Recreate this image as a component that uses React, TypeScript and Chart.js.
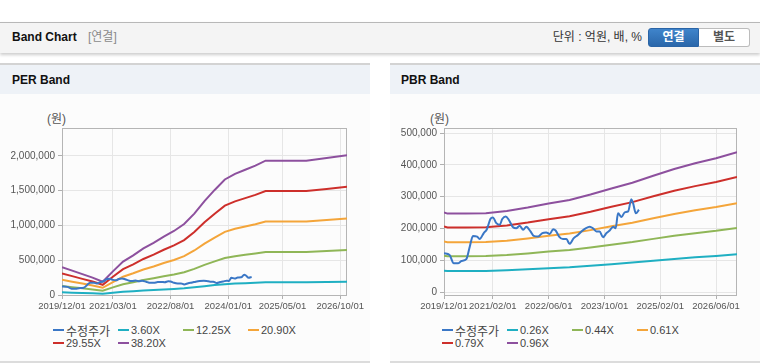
import React, { useEffect, useRef } from 'react';
import { Chart, registerables } from 'chart.js';
Chart.register(...registerables);

const FONT = "'Liberation Sans', Arial, 'Noto Sans CJK KR', sans-serif";
const TICK_FONT = "'Liberation Sans', Arial, 'Noto Sans CJK KR', sans-serif";

// x values are months since 2019/12/01
const xMax = 84;

// ---------- PER Band ----------
const perTickMonths = [0, 15, 32, 49, 65, 82];
const perTickLabels = ['2019/12/01', '2021/03/01', '2022/08/01', '2024/01/01', '2025/05/01', '2026/10/01'];
const perYTicks = [0, 500000, 1000000, 1500000, 2000000];
const perBandMonths = [0, 3, 6, 9, 12, 15, 18, 21, 24, 27, 30, 33, 36, 39, 42, 45, 48, 51, 54, 57, 60, 66, 72, 78, 84];
const per360 = [38000, 33000, 28000, 24000, 18000, 32000, 45000, 54000, 63000, 71000, 79000, 87000, 96000, 110000, 127000, 142000, 156000, 164000, 170000, 175000, 182000, 182000, 182000, 186000, 189000];
const per1225 = [128000, 112000, 96000, 80000, 61000, 109000, 154000, 183000, 215000, 241000, 269000, 295000, 327000, 375000, 433000, 484000, 532000, 558000, 577000, 597000, 619000, 619000, 619000, 632000, 645000];
const per2090 = [219000, 191000, 164000, 137000, 104000, 186000, 263000, 312000, 367000, 410000, 460000, 503000, 558000, 640000, 739000, 826000, 908000, 952000, 985000, 1018000, 1056000, 1056000, 1056000, 1078000, 1100000];
const per2955 = [309000, 271000, 232000, 193000, 147000, 263000, 371000, 441000, 518000, 580000, 650000, 712000, 789000, 905000, 1044000, 1168000, 1284000, 1346000, 1392000, 1439000, 1493000, 1493000, 1493000, 1524000, 1555000];
const per3820 = [400000, 350000, 300000, 250000, 190000, 340000, 480000, 570000, 670000, 750000, 840000, 920000, 1020000, 1170000, 1350000, 1510000, 1660000, 1740000, 1800000, 1860000, 1930000, 1930000, 1930000, 1970000, 2010000];

// ---------- PBR Band ----------
const pbrTickMonths = [0, 14, 30, 46, 62, 78];
const pbrTickLabels = ['2019/12/01', '2021/02/01', '2022/06/01', '2023/10/01', '2025/02/01', '2026/06/01'];
const pbrYTicks = [0, 100000, 200000, 300000, 400000, 500000];
const pbrBandMonths = [0, 1, 6, 12, 18, 24, 30, 36, 42, 48, 54, 60, 66, 72, 78, 84];
const pbr026 = [68000, 66900, 66900, 67200, 69100, 72000, 75600, 78500, 83100, 88300, 93200, 99100, 104800, 109700, 114000, 119200];
const pbr044 = [115000, 113200, 113200, 113700, 116900, 121900, 127900, 132900, 140700, 149400, 157700, 167700, 177400, 185600, 192900, 201700];
const pbr061 = [159500, 156900, 156900, 157600, 162000, 169000, 177300, 184300, 195100, 207100, 218600, 232600, 245900, 257300, 267500, 279600];
const pbr079 = [206500, 203300, 203300, 204100, 209800, 218900, 229600, 238600, 252600, 268300, 283100, 301200, 318500, 333300, 346400, 362100];
const pbr096 = [251000, 247000, 247000, 248000, 255000, 266000, 279000, 290000, 307000, 326000, 344000, 366000, 387000, 405000, 421000, 440000];

// ---------- 수정주가 (adjusted price) ----------
const priceMonths = [0, 1.6, 2.8, 4, 5, 6.4, 7.4, 8.3, 9.5, 10.2, 11.4, 12.3, 13.3, 14, 15, 16, 16.7, 17.7, 18.6, 19.8, 20.7, 21.7, 22.7, 23.6, 24.8, 25.7, 27, 28.2, 29.3, 30.3, 31.3, 32, 33, 34.1, 35.1, 36, 37.2, 38.4, 39.4, 40.6, 41.8, 42.7, 43.7, 44.6, 45.6, 46.6, 47.5, 48.5, 49.2, 49.9, 50.9, 51.8, 52.8, 53.7, 54.2, 55, 55.9];
const priceValues = [122600, 117000, 91000, 91000, 98000, 104000, 144000, 177000, 175000, 167000, 186000, 198000, 230000, 235000, 217000, 212000, 230000, 238000, 227000, 204000, 201000, 209000, 196000, 206000, 191000, 177000, 175000, 186000, 188000, 183000, 198000, 194000, 175000, 167000, 167000, 152000, 170000, 180000, 191000, 201000, 206000, 201000, 191000, 191000, 173000, 186000, 194000, 206000, 201000, 248000, 236000, 251000, 254000, 292000, 280000, 248000, 259000];

const COLORS = ['#3a77c6', '#1fafc2', '#8fb657', '#f4a53a', '#cd2f2b', '#8d509e'];
const perLabels = ['수정주가', '3.60X', '12.25X', '20.90X', '29.55X', '38.20X'];
const pbrLabels = ['수정주가', '0.26X', '0.44X', '0.61X', '0.79X', '0.96X'];

const toPoints = (xs: number[], ys: number[]) => xs.map((x, i) => ({ x, y: ys[i] }));

const framePlugin = {
  id: 'frame',
  beforeDatasetsDraw(chart: any) {
    const { ctx, chartArea: a } = chart;
    ctx.save();
    ctx.strokeStyle = '#b5b5b5';
    ctx.lineWidth = 1;
    ctx.strokeRect(Math.round(a.left) + 0.5, Math.round(a.top) + 0.5, Math.round(a.right - a.left) - 1, Math.round(a.bottom - a.top));
    ctx.restore();
  },
};

function makeConfig(p: {
  labels: string[];
  bandMonths: number[];
  bands: number[][];
  xTicks: number[];
  xLabels: string[];
  yTicks: number[];
  yMin: number;
  yMax: number;
  yWidth: number;
  padRight: number;
}): any {
  const datasets: any[] = [
    {
      label: p.labels[0],
      data: toPoints(priceMonths, priceValues),
      borderColor: COLORS[0],
      borderWidth: 2,
      pointRadius: 0,
      cubicInterpolationMode: 'monotone',
    },
  ];
  p.bands.forEach((vals, i) => {
    datasets.push({
      label: p.labels[i + 1],
      data: toPoints(p.bandMonths, vals),
      borderColor: COLORS[i + 1],
      borderWidth: 2,
      pointRadius: 0,
      tension: 0,
    });
  });
  return {
    type: 'line',
    data: { datasets },
    plugins: [framePlugin],
    options: {
      animation: false,
      responsive: false,
      events: [],
      layout: { padding: { left: 0, top: 28, right: p.padRight, bottom: 0 } },
      plugins: { legend: { display: false }, tooltip: { enabled: false } },
      scales: {
        x: {
          type: 'linear',
          min: 0,
          max: xMax,
          afterBuildTicks: (s: any) => {
            s.ticks = p.xTicks.map((v) => ({ value: v }));
          },
          afterFit: (s: any) => {
            s.height = 20;
          },
          ticks: {
            autoSkip: false,
            maxRotation: 0,
            minRotation: 0,
            padding: 2,
            color: '#555',
            font: { family: TICK_FONT, size: 9.5 },
            callback: (_v: any, i: number) => p.xLabels[i],
          },
          grid: { color: '#e6e6e6', tickLength: 4, tickColor: '#b0b0b0' },
          border: { display: false },
        },
        y: {
          type: 'linear',
          min: p.yMin,
          max: p.yMax,
          afterBuildTicks: (s: any) => {
            s.ticks = p.yTicks.map((v) => ({ value: v }));
          },
          afterFit: (s: any) => {
            s.width = p.yWidth;
          },
          ticks: {
            padding: 3,
            color: '#555',
            font: { family: TICK_FONT, size: 10 },
            callback: (v: any) => Number(v).toLocaleString('en-US'),
          },
          grid: { color: '#e6e6e6', tickLength: 4, tickColor: '#b0b0b0' },
          border: { display: false },
        },
      },
    },
  };
}

function BandChart(props: { config: any; left: number }) {
  const ref = useRef<HTMLCanvasElement>(null);
  useEffect(() => {
    const chart = new Chart(ref.current as HTMLCanvasElement, props.config);
    return () => chart.destroy();
  }, []);
  return (
    <canvas
      ref={ref}
      width={370}
      height={215}
      style={{ position: 'absolute', left: props.left, top: 100, width: 370, height: 215, display: 'block' }}
    />
  );
}

function Legend(props: { labels: string[]; left: number }) {
  const cols = [0, 65, 130, 195];
  return (
    <>
      {props.labels.map((lab, i) => {
        const row = i < 4 ? 0 : 1;
        const col = i < 4 ? i : i - 4;
        return (
          <div
            key={lab}
            style={{
              position: 'absolute',
              left: props.left + cols[col],
              top: row === 0 ? 322 : 335,
              height: 16,
              display: 'flex',
              alignItems: 'center',
              whiteSpace: 'nowrap',
            }}
          >
            <span style={{ display: 'inline-block', width: 11, height: 2, background: COLORS[i], marginRight: 2 }} />
            <span style={{ fontFamily: FONT, fontSize: i === 0 ? 12 : 11, color: '#444' }}>{lab}</span>
          </div>
        );
      })}
    </>
  );
}

const perConfig = makeConfig({
  labels: perLabels,
  bandMonths: perBandMonths,
  bands: [per360, per1225, per2090, per2955, per3820],
  xTicks: perTickMonths,
  xLabels: perTickLabels,
  yTicks: perYTicks,
  yMin: 0,
  yMax: 2400000,
  yWidth: 62,
  padRight: 23,
});

const pbrConfig = makeConfig({
  labels: pbrLabels,
  bandMonths: pbrBandMonths,
  bands: [pbr026, pbr044, pbr061, pbr079, pbr096],
  xTicks: pbrTickMonths,
  xLabels: pbrTickLabels,
  yTicks: pbrYTicks,
  yMin: -8500,
  yMax: 515700,
  yWidth: 64,
  padRight: 13,
});

export default function App() {
  const abs = (s: any) => ({ position: 'absolute' as const, ...s });
  return (
    <div style={abs({ left: 0, top: 0, width: 760, height: 364, background: '#fff', overflow: 'hidden', fontFamily: FONT })}>
      {/* top header bar */}
      <div
        style={abs({
          left: 0,
          top: 22,
          width: 760,
          height: 30,
          background: '#f4f4f4',
          borderTop: '1px solid #b8b8b8',
          boxShadow: '0 2px 3px rgba(0,0,0,0.2)',
        })}
      />
      <div style={abs({ left: 12, top: 29, fontSize: 12, fontWeight: 'bold', color: '#111', lineHeight: '16px' })}>Band Chart</div>
      <div style={abs({ left: 88, top: 29, fontSize: 12, color: '#8a8a8a', lineHeight: '16px' })}>[연결]</div>
      <div style={abs({ right: 118, top: 29, fontSize: 12, color: '#333', lineHeight: '16px', whiteSpace: 'nowrap' })}>단위 : 억원, 배, %</div>
      <div
        style={abs({
          left: 648,
          top: 28,
          width: 51,
          height: 19,
          boxSizing: 'border-box',
          background: 'linear-gradient(#3f84cb, #2a67aa)',
          border: '1px solid #2a64a6',
          borderRadius: '3px 0 0 3px',
          color: '#fff',
          fontSize: 12,
          fontWeight: 'bold',
          textAlign: 'center',
          lineHeight: '17px',
        })}
      >
        연결
      </div>
      <div
        style={abs({
          left: 699,
          top: 28,
          width: 51,
          height: 19,
          boxSizing: 'border-box',
          background: '#fff',
          border: '1px solid #bcbcbc',
          borderLeft: 'none',
          borderRadius: '0 3px 3px 0',
          color: '#555',
          fontSize: 12,
          fontWeight: 'bold',
          textAlign: 'center',
          lineHeight: '17px',
        })}
      >
        별도
      </div>

      {/* panels */}
      <div style={abs({ left: 0, top: 63, width: 370, height: 298, background: '#fcfcfc', borderBottom: '2px solid #dcdcdc' })} />
      <div style={abs({ left: 390, top: 63, width: 370, height: 298, background: '#fcfcfc', borderBottom: '2px solid #dcdcdc' })} />
      <div style={abs({ left: 0, top: 63, width: 370, height: 29, background: '#eef2f7', borderTop: '2px solid #d3d3d3' })} />
      <div style={abs({ left: 390, top: 63, width: 370, height: 29, background: '#eef2f7', borderTop: '2px solid #d3d3d3' })} />
      <div style={abs({ left: 12, top: 72, fontSize: 12, fontWeight: 'bold', color: '#111', lineHeight: '16px' })}>PER Band</div>
      <div style={abs({ left: 401, top: 72, fontSize: 12, fontWeight: 'bold', color: '#111', lineHeight: '16px' })}>PBR Band</div>

      <div style={abs({ left: 47, top: 111, fontSize: 12, color: '#555', lineHeight: '16px' })}>(원)</div>
      <div style={abs({ left: 430, top: 111, fontSize: 12, color: '#555', lineHeight: '16px' })}>(원)</div>

      <BandChart config={perConfig} left={0} />
      <BandChart config={pbrConfig} left={380} />

      <Legend labels={perLabels} left={53} />
      <Legend labels={pbrLabels} left={442} />
    </div>
  );
}
